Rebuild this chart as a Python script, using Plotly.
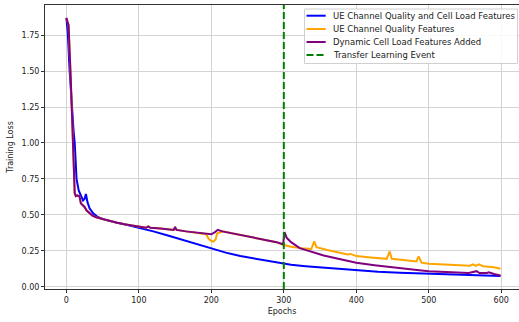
import plotly.graph_objects as go

# ---- data ----
blue_epochs = [0, 2, 4.5, 7.4, 10, 11.5, 13, 14, 17, 21, 23, 25, 27, 29, 32, 37, 42, 50, 60, 70, 80, 90,
               100, 120, 140, 160, 180, 200, 220, 240, 260, 280, 300, 310, 330, 360, 400, 430, 460,
               500, 540, 570, 599]
blue_loss = [1.87, 1.76, 1.50, 1.24, 1.08, 1.00, 0.86, 0.75, 0.67, 0.62, 0.60, 0.61, 0.645, 0.59, 0.545,
             0.51, 0.49, 0.47, 0.455, 0.445, 0.435, 0.423, 0.412, 0.385, 0.356, 0.325, 0.295, 0.265,
             0.237, 0.213, 0.195, 0.178, 0.162, 0.153, 0.143, 0.130, 0.113, 0.104, 0.097, 0.090,
             0.083, 0.078, 0.074]

purple_epochs = [0, 3, 6, 8, 10, 11.5, 13, 15, 18, 20, 23, 25, 28, 32, 36, 41, 47, 53, 60, 70, 80, 90,
                 100, 110, 113, 116, 130, 148, 150, 152, 165, 180, 195, 200, 205, 209, 215, 230, 245,
                 260, 275, 290, 299, 301, 304, 310, 322, 338, 355, 375, 400, 425, 447, 475, 490, 500,
                 520, 539, 555, 566, 570, 580, 583, 590, 599]
purple_loss = [1.87, 1.82, 1.45, 1.20, 0.95, 0.65, 0.63, 0.635, 0.63, 0.58, 0.565, 0.555, 0.53, 0.51,
               0.495, 0.483, 0.475, 0.465, 0.455, 0.445, 0.435, 0.425, 0.415, 0.41, 0.42, 0.41, 0.405,
               0.395, 0.415, 0.395, 0.385, 0.375, 0.37, 0.365, 0.38, 0.396, 0.385, 0.37, 0.355, 0.34,
               0.325, 0.31, 0.295, 0.38, 0.34, 0.31, 0.268, 0.245, 0.217, 0.195, 0.167, 0.15, 0.136,
               0.12, 0.113, 0.108, 0.102, 0.097, 0.095, 0.108, 0.095, 0.095, 0.10, 0.088, 0.078]

orange_epochs = [0, 3, 6, 8, 10, 11.5, 13, 15, 18, 20, 23, 25, 28, 32, 36, 41, 47, 53, 60, 70, 80, 90,
                 100, 110, 113, 116, 130, 148, 150, 152, 165, 180, 190, 193, 196, 200, 203, 206, 208,
                 212, 216, 230, 245, 260, 275, 290, 299, 310, 325, 338, 342, 345, 360, 375, 388, 392,
                 400, 420, 442, 446, 449, 465, 483, 486, 490, 500, 520, 540, 557, 561, 565, 569, 575,
                 590, 599]
orange_loss = [1.87, 1.82, 1.45, 1.20, 0.95, 0.65, 0.63, 0.635, 0.63, 0.58, 0.565, 0.555, 0.53, 0.51,
               0.495, 0.483, 0.475, 0.465, 0.455, 0.445, 0.435, 0.425, 0.415, 0.41, 0.42, 0.41, 0.405,
               0.395, 0.41, 0.395, 0.385, 0.375, 0.372, 0.365, 0.335, 0.318, 0.314, 0.33, 0.37, 0.38,
               0.385, 0.37, 0.355, 0.34, 0.325, 0.31, 0.292, 0.278, 0.267, 0.262, 0.315, 0.275, 0.255,
               0.237, 0.224, 0.228, 0.213, 0.203, 0.194, 0.245, 0.194, 0.185, 0.176, 0.21, 0.167, 0.16,
               0.155, 0.15, 0.146, 0.155, 0.145, 0.155, 0.142, 0.135, 0.125]

transfer_epoch = 300
x_ticks = [0, 100, 200, 300, 400, 500, 600]
y_ticks = [0.0, 0.25, 0.5, 0.75, 1.0, 1.25, 1.5, 1.75]

series_names = ["UE Channel Quality and Cell Load Features", "UE Channel Quality Features",
                "Dynamic Cell Load Features Added", "Transfer Learning Event"]
series_colors = ["#0000ff", "#ffa500", "#800080", "#008000"]

FONT = "DejaVu Sans"
DASH = "7px,3px"

# plot area geometry (pixels) used to place the custom legend
W, H = 519, 322
ML, MR, MT, MB = 45, 0, 5, 33
PW, PH = W - ML - MR, H - MT - MB


def px_x(px):
    return (px - ML) / PW


def px_y(py):
    return 1 - (py - MT) / PH


fig = go.Figure()
fig.add_trace(go.Scatter(x=blue_epochs, y=blue_loss, mode="lines", name=series_names[0],
                         line=dict(color=series_colors[0], width=2)))
fig.add_trace(go.Scatter(x=orange_epochs, y=orange_loss, mode="lines", name=series_names[1],
                         line=dict(color=series_colors[1], width=2)))
fig.add_trace(go.Scatter(x=purple_epochs, y=purple_loss, mode="lines", name=series_names[2],
                         line=dict(color=series_colors[2], width=2)))
fig.add_trace(go.Scatter(x=[transfer_epoch, transfer_epoch], y=[-0.016, 1.96], mode="lines",
                         name=series_names[3],
                         line=dict(color=series_colors[3], width=2, dash=DASH)))

# custom legend (matplotlib-like compact layout)
shapes = [dict(type="rect", xref="paper", yref="paper",
               x0=px_x(304.5), x1=px_x(517.5), y0=px_y(63.5), y1=px_y(9),
               line=dict(color="#d0d0d0", width=1), fillcolor="rgba(255,255,255,0.85)",
               layer="above")]
annotations = []
row_y = [15.7, 29, 42, 55]
for i, name in enumerate(series_names):
    yy = px_y(row_y[i])
    shapes.append(dict(type="line", xref="paper", yref="paper",
                       x0=px_x(306.5), x1=px_x(325.7), y0=yy, y1=yy, layer="above",
                       line=dict(color=series_colors[i], width=2,
                                 dash=DASH if i == 3 else "solid")))
    annotations.append(dict(text=name, xref="paper", yref="paper", x=px_x(331), y=yy,
                            xanchor="left", yanchor="middle", showarrow=False,
                            font=dict(family=FONT, size=8.5, color="#222222")))

fig.update_layout(
    width=W, height=H,
    margin=dict(l=ML, r=MR, t=MT, b=MB),
    paper_bgcolor="white", plot_bgcolor="white",
    font=dict(family=FONT, size=8, color="#222222"),
    showlegend=False,
    shapes=shapes, annotations=annotations,
)
fig.update_xaxes(range=[-29.5, 624.5], tickvals=x_ticks, ticktext=[str(v) for v in x_ticks],
                 showgrid=True, gridcolor="#d3d3d3", gridwidth=1, zeroline=False,
                 showline=True, linecolor="#333333", linewidth=1, mirror=True,
                 ticks="outside", ticklen=3, tickcolor="#333333",
                 title=dict(text="Epochs", font=dict(family=FONT, size=8), standoff=4))
fig.update_yaxes(range=[-0.016, 1.96], tickvals=y_ticks, ticktext=[f"{v:.2f}" for v in y_ticks],
                 showgrid=True, gridcolor="#d3d3d3", gridwidth=1, zeroline=False,
                 showline=True, linecolor="#333333", linewidth=1, mirror=False,
                 ticks="outside", ticklen=3, tickcolor="#333333",
                 title=dict(text="Training Loss", font=dict(family=FONT, size=8), standoff=6))

fig.write_html("out.html")
